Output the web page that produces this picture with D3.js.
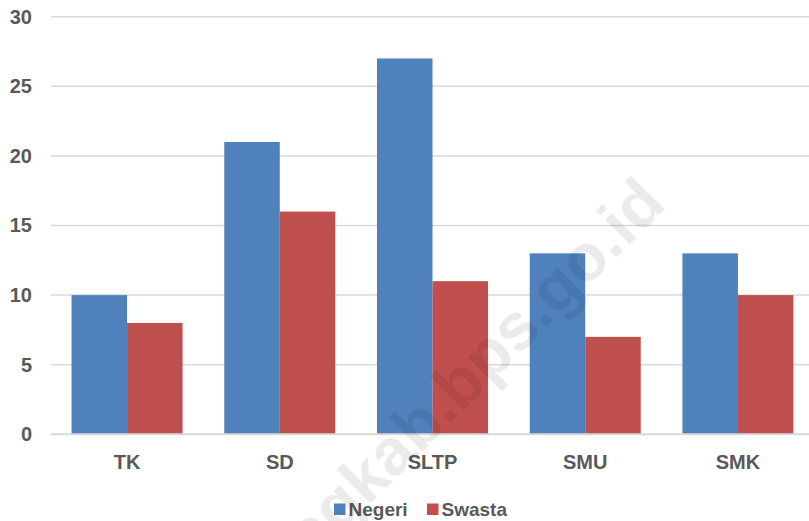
<!DOCTYPE html>
<html>
<head>
<meta charset="utf-8">
<script src="https://cdn.jsdelivr.net/npm/d3@7"></script>
<style>
  html, body { margin: 0; padding: 0; background: #fff; }
  svg { display: block; }
</style>
</head>
<body>
<svg id="chart" width="809" height="521"></svg>
<script>
const categories = ["TK", "SD", "SLTP", "SMU", "SMK"];
const seriesNames = ["Negeri", "Swasta"];
const negeri = [10, 21, 27, 13, 13];
const swasta = [8, 16, 11, 7, 10];
const yTicks = [0, 5, 10, 15, 20, 25, 30];
const colors = ["#4F81BD", "#C0504D"];

const W = 809, H = 521;
const svg = d3.select("#chart");
const font = "'Liberation Sans', Arial, sans-serif";
const textColor = "#595959";

const x0 = d3.scaleBand().domain(categories).range([50.7, 814.3]).paddingInner(0.273).paddingOuter(0.1365);
const x1 = d3.scaleBand().domain(seriesNames).range([0, x0.bandwidth()]);
const y = d3.scaleLinear().domain([0, 30]).range([434.3, 16.7]);

// gridlines
svg.append("g").selectAll("line").data(yTicks.filter(d => d !== 0)).join("line")
  .attr("x1", 51).attr("x2", W)
  .attr("y1", d => y(d)).attr("y2", d => y(d))
  .attr("stroke", "#d9d9d9").attr("stroke-width", 1.5);

// bars
const data = categories.map((c, i) => ({ c, vals: [negeri[i], swasta[i]] }));
const groups = svg.append("g").selectAll("g").data(data).join("g")
  .attr("transform", d => `translate(${x0(d.c)},0)`);
groups.selectAll("rect").data(d => d.vals.map((v, j) => ({ s: seriesNames[j], v, j }))).join("rect")
  .attr("x", d => x1(d.s))
  .attr("width", x1.bandwidth())
  .attr("y", d => y(d.v))
  .attr("height", d => y(0) - y(d.v))
  .attr("fill", d => colors[d.j]);

// baseline
svg.append("line").attr("x1", 51).attr("x2", W).attr("y1", y(0)).attr("y2", y(0))
  .attr("stroke", "#d9d9d9").attr("stroke-width", 2);

// y axis labels
const yAxis = d3.axisLeft(y).tickValues(yTicks).tickSize(0).tickPadding(0);
const yg = svg.append("g").attr("transform", "translate(32,0)").call(yAxis);
yg.select(".domain").remove();
yg.selectAll("text").attr("fill", textColor).style("font-family", font)
  .style("font-size", "20px").style("font-weight", "bold");

// x axis labels
const xAxis = d3.axisBottom(x0).tickSize(0).tickPadding(0);
const xg = svg.append("g").attr("transform", `translate(0,${y(0)})`).call(xAxis);
xg.select(".domain").remove();
xg.selectAll("text").attr("fill", textColor).attr("dy", null).attr("y", 34.5)
  .style("font-family", font).style("font-size", "20px").style("font-weight", "bold");

// legend
const legend = svg.append("g");
const legendX = [334, 427];
seriesNames.forEach((s, i) => {
  legend.append("rect").attr("x", legendX[i]).attr("y", 503.5).attr("width", 11.5).attr("height", 11.5).attr("fill", colors[i]);
  legend.append("text").attr("x", legendX[i] + 14.5).attr("y", 515.5).text(s)
    .attr("fill", textColor).style("font-family", font).style("font-size", "19px").style("font-weight", "bold");
});

// watermark
svg.append("text")
  .attr("transform", "translate(668,206) rotate(-45)")
  .attr("text-anchor", "end")
  .text("magelangkab.bps.go.id")
  .attr("fill", "#000").attr("fill-opacity", 0.08)
  .style("font-family", font).style("font-size", "66px").style("font-weight", "bold");
</script>
</body>
</html>
